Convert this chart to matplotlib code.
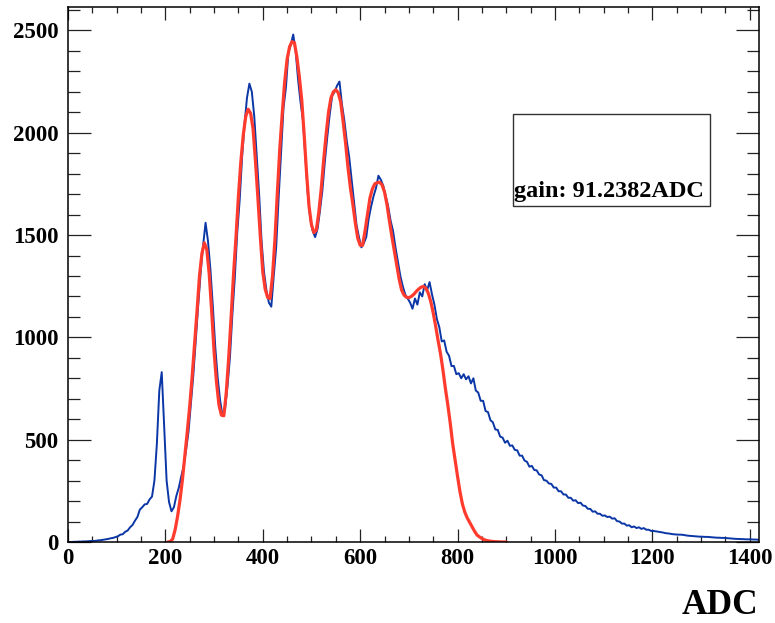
import matplotlib
matplotlib.use("Agg")
import matplotlib.pyplot as plt
import numpy as np
from matplotlib.ticker import MultipleLocator
from matplotlib.patches import Rectangle

# ---------------- data ----------------
BIN_WIDTH = 5  # ADC per histogram bin
adc_counts = [
    0, 0, 1, 1, 2, 2, 3, 3, 4, 5, 5, 6, 8, 9, 11, 13, 15, 18, 20, 24,
    28, 36, 38, 50, 56, 72, 83, 104, 122, 158, 170, 184, 186, 208, 222, 300, 480, 740, 830, 560,
    300, 195, 150, 170, 225, 265, 320, 370, 450, 540, 680, 820, 990, 1160, 1320, 1450, 1560, 1470, 1330, 1150,
    950, 800, 690, 615, 650, 760, 900, 1110, 1290, 1510, 1670, 1880, 2040, 2170, 2240, 2200, 2080, 1890, 1700, 1470,
    1320, 1230, 1170, 1150, 1300, 1440, 1680, 1900, 2120, 2220, 2390, 2430, 2480, 2400, 2260, 2150, 2060, 1880, 1700, 1580,
    1520, 1490, 1530, 1620, 1720, 1860, 1980, 2090, 2180, 2200, 2230, 2250, 2140, 2060, 1960, 1880, 1770, 1660, 1550, 1490,
    1440, 1460, 1490, 1580, 1640, 1690, 1730, 1790, 1770, 1740, 1690, 1640, 1570, 1520, 1440, 1370, 1300, 1250, 1210, 1190,
    1170, 1140, 1190, 1160, 1220, 1200, 1260, 1230, 1270, 1210, 1160, 1090, 1050, 980, 985, 930, 910, 860, 860, 820,
    825, 800, 820, 795, 810, 775, 800, 740, 730, 690, 690, 640, 635, 595, 585, 550, 548, 515, 510, 485,
    495, 470, 472, 450, 448, 422, 422, 398, 392, 368, 372, 352, 350, 330, 326, 302, 300, 286, 284, 266,
    266, 248, 248, 232, 232, 216, 216, 202, 204, 190, 192, 178, 176, 162, 162, 148, 150, 138, 138, 128,
    130, 122, 124, 114, 116, 102, 100, 90, 90, 80, 82, 72, 76, 68, 72, 64, 68, 60, 60, 54,
    54, 52, 50, 48, 46, 43, 42, 40, 38, 37, 36, 36, 35, 33, 31, 30, 29, 28, 27, 26,
    26, 25, 25, 24, 23, 22, 21, 21, 20, 20, 19, 18, 17, 16, 15, 15, 14, 14, 13, 13,
    13, 12, 12, 11,
]

FIT_START = 205
FIT_STEP = 5
fit_values = [
    0, 2, 15, 60, 125, 205, 305, 420, 540, 665, 810, 970, 1130, 1300, 1410, 1462, 1430, 1310, 1130, 930,
    780, 670, 620, 617, 730, 900, 1100, 1310, 1490, 1690, 1860, 1990, 2080, 2115, 2095, 2020, 1860, 1680, 1490, 1320,
    1235, 1195, 1190, 1300, 1480, 1710, 1925, 2095, 2250, 2360, 2420, 2445, 2440, 2370, 2275, 2160, 1990, 1800, 1640, 1550,
    1512, 1525, 1610, 1725, 1865, 1990, 2100, 2170, 2200, 2210, 2195, 2150, 2055, 1950, 1830, 1730, 1650, 1560, 1485, 1450,
    1450, 1520, 1600, 1680, 1725, 1750, 1756, 1758, 1745, 1710, 1650, 1570, 1495, 1425, 1355, 1285, 1232, 1207, 1196, 1194,
    1200, 1210, 1224, 1236, 1245, 1249, 1240, 1215, 1175, 1120, 1055, 985, 920, 840, 750, 670, 580, 480, 400, 320,
    245, 185, 145, 117, 95, 72, 52, 34, 25, 17, 11, 7, 5, 3, 2, 1, 1, 0, 0, 0,
]

x_ticks = [0, 200, 400, 600, 800, 1000, 1200, 1400]
y_ticks = [0, 500, 1000, 1500, 2000, 2500]
x_title = "ADC"
gain_label = "gain: 91.2382ADC"

# ---------------- plot ----------------
plt.rcParams['font.family'] = ['Liberation Serif', 'DejaVu Serif']

fig = plt.figure(figsize=(7.75, 6.23), dpi=100)
ax = fig.add_axes([0.08774, 0.13002, 0.8916, 0.85826])

centers = (np.arange(len(adc_counts)) + 0.5) * BIN_WIDTH
ax.plot(centers, adc_counts, color='#0a36a6', lw=1.4)

fit_x = FIT_START + np.arange(len(fit_values)) * FIT_STEP
ax.plot(fit_x, fit_values, color='#ff3b2e', lw=2.3, solid_capstyle='round')

ax.set_xlim(0, 1419)
ax.set_ylim(0, 2613)
ax.set_xticks(x_ticks)
ax.set_yticks(y_ticks)
ax.xaxis.set_minor_locator(MultipleLocator(50))
ax.yaxis.set_minor_locator(MultipleLocator(100))
ax.tick_params(which='both', direction='in', top=True, right=True, width=0.9, color='#222222')
ax.tick_params(axis='x', which='major', length=9.6, pad=4)
ax.tick_params(axis='x', which='minor', length=4.5)
ax.tick_params(axis='y', which='major', length=16.5, pad=7)
ax.tick_params(axis='y', which='minor', length=8.4)
for lbl in ax.get_xticklabels() + ax.get_yticklabels():
    lbl.set_fontweight('bold')
    lbl.set_fontsize(16.5)
for sp in ax.spines.values():
    sp.set_linewidth(1.1)

fig.text(0.979, 1 - 605 / 623, x_title, ha='right', va='center',
         fontsize=25.5, fontweight='bold')

box = Rectangle((0.6615, 0.6693), 0.2546, 0.1477, transform=fig.transFigure,
                facecolor='white', edgecolor='#333333', lw=1.0)
fig.patches.append(box)
fig.text(0.7858, 1 - 197 / 623, gain_label, ha='center', va='baseline',
         fontsize=17.5, fontweight='bold')

fig.savefig('out.png', dpi=100)
